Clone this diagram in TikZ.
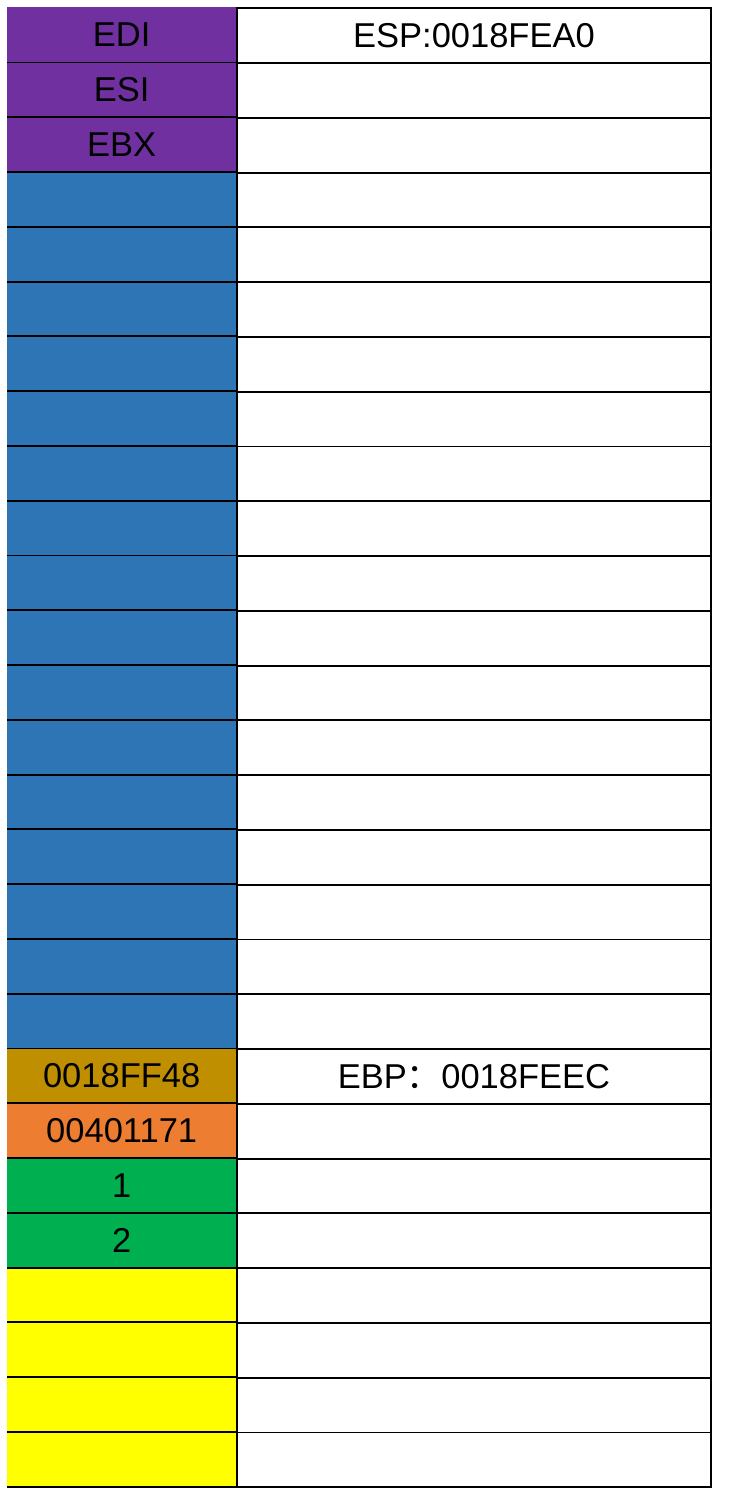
\documentclass[tikz,border=0pt]{standalone}
\usepackage{fontspec}
\setmainfont{Liberation Sans}
\newfontfamily\cjk{Noto Sans CJK SC}
\definecolor{regpurple}{HTML}{7030A0}
\definecolor{stackblue}{HTML}{2E75B6}
\definecolor{ebpgold}{HTML}{BF8F00}
\definecolor{retorange}{HTML}{ED7D31}
\definecolor{arggreen}{HTML}{00B050}
\definecolor{locyellow}{HTML}{FFFF00}
\begin{document}
\begin{tikzpicture}[x=1pt,y=-1pt,
  leftcell/.style={minimum width=229pt,minimum height=54.78pt,inner sep=0pt,anchor=north west,
    font=\fontsize{34.5}{40}\selectfont},
  rightcell/.style={minimum width=474pt,minimum height=54.78pt,inner sep=0pt,anchor=north west,
    draw=black,line width=1.9pt},
  celltext/.style={inner sep=0pt,font=\fontsize{34.5}{40}\selectfont},
  gridline/.style={draw=black,line width=1.9pt}]
\path[use as bounding box] (0,0) rectangle (730,1506);
\foreach \i/\col/\txt in {1/regpurple/EDI,2/regpurple/ESI,3/regpurple/EBX,
  4/stackblue/,5/stackblue/,6/stackblue/,7/stackblue/,8/stackblue/,9/stackblue/,
  10/stackblue/,11/stackblue/,12/stackblue/,13/stackblue/,14/stackblue/,15/stackblue/,
  16/stackblue/,17/stackblue/,18/stackblue/,19/stackblue/,
  20/ebpgold/0018FF48,21/retorange/00401171,22/arggreen/1,23/arggreen/2,
  24/locyellow/,25/locyellow/,26/locyellow/,27/locyellow/}{
  \pgfmathsetmacro\yy{7.3+(\i-1)*54.78}
  \node[leftcell,fill=\col] (L\i) at (7,\yy) {\txt};
}
\foreach \i in {1,...,27}{
  \pgfmathsetmacro\yy{7.3+(\i-1)*54.78}
  \node[rightcell] (R\i) at (236,\yy) {};
  \draw[gridline] (L\i.south west) -- (L\i.south east);
}
\node[celltext] (esp) at (R1) {ESP:0018FEA0};
\node[celltext] (ebp) at (R20) {EBP{\cjk ：}0018FEEC};
\end{tikzpicture}
\end{document}
